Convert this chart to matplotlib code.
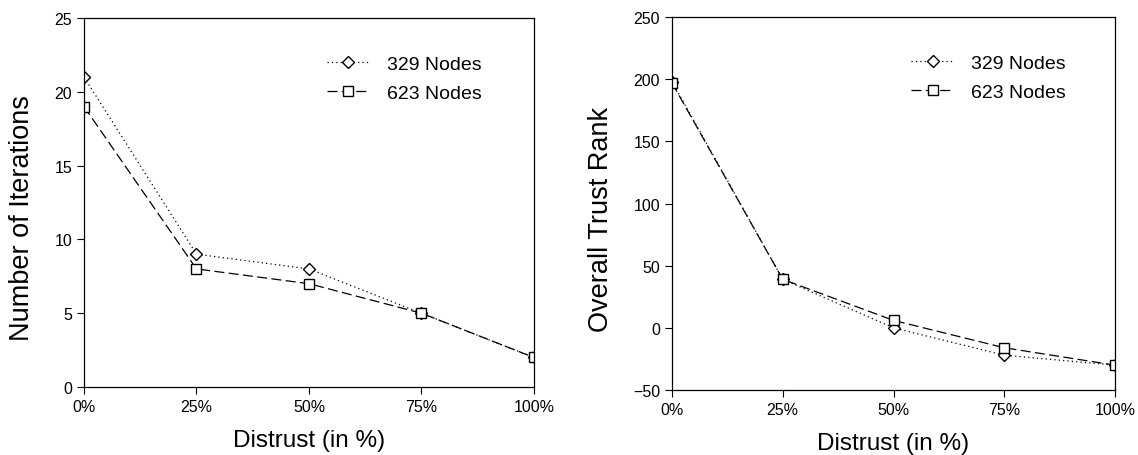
import matplotlib
matplotlib.use("Agg")
import matplotlib.pyplot as plt

plt.rcParams['font.family'] = ['Liberation Sans', 'DejaVu Sans']

distrust = [0, 25, 50, 75, 100]
xtick_labels = ["0%", "25%", "50%", "75%", "100%"]

iter_329 = [21, 9, 8, 5, 2]
iter_623 = [19, 8, 7, 5, 2]

rank_329 = [198, 39, 0, -22, -30]
rank_623 = [197, 39, 6, -16, -30]

fig = plt.figure(figsize=(11.38, 4.56), dpi=100)
ax1 = fig.add_axes([0.0738, 0.1491, 0.3954, 0.8092])
ax2 = fig.add_axes([0.5905, 0.1425, 0.3893, 0.8180])


def draw(ax, a, b, ylim, yticks, ylabel, ylab_x):
    ax.plot(distrust, a, linestyle=(0, (1, 2.5)), color="black", lw=0.9,
            marker="D", markersize=6, markerfacecolor="white",
            markeredgecolor="black", markeredgewidth=1.0, label="329 Nodes")
    ax.plot(distrust, b, linestyle=(0, (8, 3.5)), color="black", lw=0.9,
            marker="s", markersize=7.5, markerfacecolor="white",
            markeredgecolor="black", markeredgewidth=1.0, label="623 Nodes")
    ax.set_xlim(0, 100)
    ax.set_ylim(*ylim)
    ax.set_xticks(distrust)
    ax.set_xticklabels(xtick_labels)
    ax.set_yticks(yticks)
    ax.tick_params(direction="out", length=5, width=0.8, labelsize=11.5,
                   top=False, right=False, pad=3.5)
    for s in ax.spines.values():
        s.set_linewidth(0.9)
    ax.set_xlabel("Distrust (in %)", fontsize=17.5, labelpad=11)
    ax.set_ylabel(ylabel, fontsize=19.5)
    ax.yaxis.set_label_coords(ylab_x, 0.46)
    ax.legend(loc="upper left", frameon=False, fontsize=14,
              bbox_to_anchor=(0.54, 0.9), borderpad=0, borderaxespad=0,
              handlelength=2.2, handletextpad=0.9, labelspacing=0.6)


draw(ax1, iter_329, iter_623, (0, 25), [0, 5, 10, 15, 20, 25],
     "Number of Iterations", -0.108)
draw(ax2, rank_329, rank_623, (-50, 250), [-50, 0, 50, 100, 150, 200, 250],
     "Overall Trust Rank", -0.13)

fig.savefig("out.png", dpi=100)
